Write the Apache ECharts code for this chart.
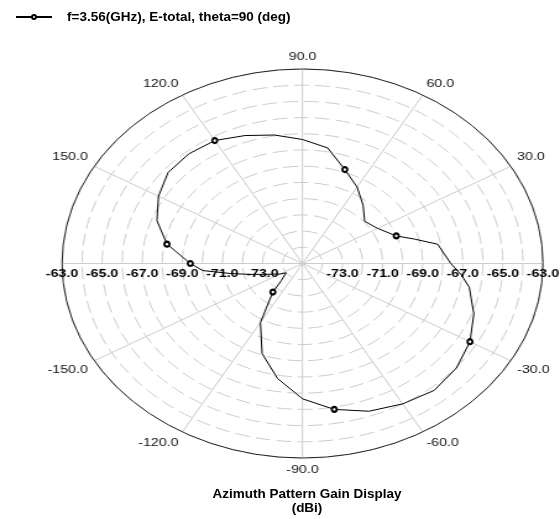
<!DOCTYPE html>
<html><head><meta charset="utf-8">
<script src="https://cdn.jsdelivr.net/npm/echarts@6/dist/echarts.min.js"></script>
<style>html,body{margin:0;padding:0;background:#fff}</style>
</head><body>
<div id="wrap" style="position:relative;width:560px;height:519px;background:#fff;overflow:hidden">
  <div id="a" style="position:absolute;left:0;top:0;width:453px;height:519px;transform:scaleX(1.2362);transform-origin:0 0"></div>
  <div id="b" style="position:absolute;left:0;top:0;width:560px;height:519px;pointer-events:none"></div>
</div>
<script>
const seriesName = 'f=3.56(GHz), E-total, theta=90 (deg)';
const angles = [-180,-175,-170,-165,-160,-155,-150,-145,-140,-135,-130,-120,-110,-100,-90,-80,-70,-60,-50,-40,-30,-20,-10,-5,0,10,15,20,30,40,50,60,70,80,90,100,110,120,130,140,150,160,170,180];
const gains = [-69.4,-70.0,-71.4,-72.4,-73.05,-73.45,-73.7,-74.0,-74.05,-73.5,-72.7,-70.8,-69.1,-67.8,-66.65,-65.86,-65.3,-65.0,-64.78,-64.97,-65.35,-65.9,-66.55,-67.05,-67.6,-68.15,-69.2,-70.02,-70.67,-70.95,-70.3,-69.55,-68.83,-67.76,-67.35,-66.95,-66.6,-66.24,-66.17,-66.25,-66.7,-67.27,-68.13,-69.4];
const markerAngles = [-180,-130,-80,-30,20,70,120,170];
const radialTicks = [-63,-65,-67,-69,-71,-73];
const angleTicks = [-150,-120,-90,-60,-30,30,60,90,120,150];
const titleText = 'Azimuth Pattern Gain Display';
const unitText = '(dBi)';

const FONT = '"Liberation Sans", Arial, sans-serif';
const center = [244.7, 263.5];
const radius = 194.5;

const radFormatter = v => radialTicks.indexOf(Math.round(v)) >= 0 && Math.abs(v - Math.round(v)) < 1e-6 ? Number(v).toFixed(1) : '';

const chartA = echarts.init(document.getElementById('a'), null, {renderer: 'canvas'});
chartA.setOption({
  animation: false,
  backgroundColor: 'transparent',
  polar: [
    {center: center, radius: radius},
    {center: center, radius: radius}
  ],
  angleAxis: [
    {
      polarIndex: 0, type: 'value', min: -180, max: 180, interval: 30,
      startAngle: 180, clockwise: false,
      axisLine: {show: true, lineStyle: {color: '#222', width: 1}},
      axisTick: {show: false},
      axisLabel: {
        show: true, margin: 6,
        formatter: v => angleTicks.indexOf(v) >= 0 ? Number(v).toFixed(1) : '',
        color: '#111', fontFamily: FONT, fontSize: 11.5
      },
      splitLine: {show: true, lineStyle: {color: '#cccccc', width: 1}}
    },
    {
      polarIndex: 1, type: 'value', min: -180, max: 180, interval: 30,
      startAngle: 0, clockwise: false, show: false
    }
  ],
  radiusAxis: [
    {
      polarIndex: 0, type: 'value', min: -75, max: -63, interval: 1,
      axisLine: {show: false}, axisTick: {show: false},
      axisLabel: {show: true, formatter: radFormatter, color: '#000', fontFamily: FONT, fontWeight: 'bold', fontSize: 11.5, margin: 4},
      splitLine: {show: true, lineStyle: {color: '#cccccc', width: 1, type: [12, 5]}}
    },
    {
      polarIndex: 1, type: 'value', min: -75, max: -63, interval: 1,
      axisLine: {show: false}, axisTick: {show: false},
      axisLabel: {show: true, formatter: radFormatter, color: '#000', fontFamily: FONT, fontWeight: 'bold', fontSize: 11.5, margin: -16},
      splitLine: {show: false}
    }
  ],
  series: [{
    name: seriesName,
    type: 'line',
    coordinateSystem: 'polar',
    polarIndex: 0,
    data: gains.map((g, i) => [g, angles[i]]),
    symbol: (val) => markerAngles.indexOf(val[1]) >= 0 ? 'emptyCircle' : 'none',
    symbolSize: [4, 5],
    showSymbol: true,
    showAllSymbol: true,
    lineStyle: {color: '#000', width: 1},
    itemStyle: {color: '#000', borderColor: '#333', borderWidth: 1},
    z: 5
  }]
});

const chartB = echarts.init(document.getElementById('b'), null, {renderer: 'canvas'});
chartB.setOption({
  animation: false,
  backgroundColor: 'transparent',
  grid: {show: false, left: 0, top: 0, width: 1, height: 1},
  xAxis: {show: false, type: 'value'},
  yAxis: {show: false, type: 'value'},
  legend: {
    left: 10, top: 5,
    itemWidth: 36, itemHeight: 5,
    data: [seriesName],
    textStyle: {color: '#000', fontFamily: FONT, fontWeight: 'bold', fontSize: 13.5, padding: [0, 0, 0, 10]}
  },
  title: {
    text: titleText + '\n' + unitText,
    left: 302, top: 482, textAlign: 'center',
    textStyle: {color: '#000', fontFamily: FONT, fontWeight: 'bold', fontSize: 13.5, lineHeight: 14}
  },
  series: [{
    name: seriesName, type: 'line', data: [],
    symbol: 'emptyCircle', symbolSize: 5,
    lineStyle: {color: '#000', width: 1},
    itemStyle: {color: '#000', borderColor: '#333'}
  }]
});
</script>
</body></html>
